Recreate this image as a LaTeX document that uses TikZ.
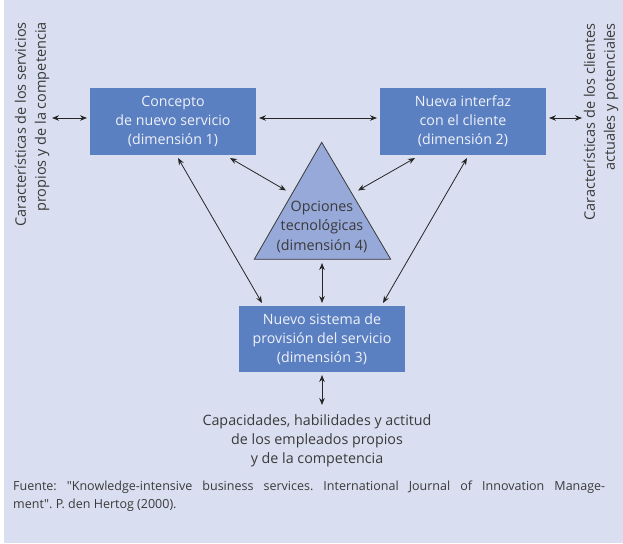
\documentclass[tikz,border=0pt]{standalone}
\usepackage{fontspec}
\setmainfont{Open Sans}[Ligatures=TeXOff]
\usetikzlibrary{arrows.meta,calc}
\definecolor{bg}{HTML}{D9DFF0}
\definecolor{boxc}{HTML}{5B80C1}
\definecolor{tri}{HTML}{97A9D9}
\definecolor{txt}{HTML}{3A3A3A}
\definecolor{wtxt}{HTML}{EEF1FA}
\frenchspacing
\begin{document}
\begin{tikzpicture}[x=1pt,y=-1pt,
  dimbox/.style={fill=boxc, text=wtxt, minimum width=166pt, minimum height=67pt, inner sep=0pt, outer sep=3pt, align=center, font=\fontsize{14.2}{19}\selectfont},
  arr/.style={{Stealth[length=7pt,width=5.5pt]}-{Stealth[length=7pt,width=5.5pt]}, line width=0.8pt, draw=black!85},
  side/.style={rotate=90, anchor=east, align=right, text=txt, font=\fontsize{14.5}{20}\selectfont, inner sep=0pt},
  plain/.style={text=txt, align=center, inner sep=0pt, font=\fontsize{14.3}{19.2}\selectfont}]
\useasboundingbox (0,0) rectangle (623,543);
\fill[white] (0,0) rectangle (623,543);
\fill[bg] (4,0) rectangle (623,543);

% boxes
\node[dimbox] (b1) at (173,121.5) {Concepto\\de nuevo servicio\\(dimensión 1)};
\node[dimbox] (b2) at (463,121.5) {Nueva interfaz\\con el cliente\\(dimensión 2)};
\node[dimbox, minimum height=66pt] (b3) at (322,339) {Nuevo sistema de\\provisión del servicio\\(dimensión 3)};

% triangle
\coordinate (ta) at (321.7,142.3);
\coordinate (tl) at (254.3,259.3);
\coordinate (tr) at (390.7,259.3);
\draw[fill=tri, draw=txt, line width=0.8pt] (ta) -- (tl) -- (tr) -- cycle;
\node[plain] (t) at (322,226.7) {Opciones\\tecnológicas\\(dimensión 4)};
\coordinate (tlp) at (286,190.5);
\coordinate (trp) at (358,190.5);
\coordinate (tbp) at (322,263);

% side texts
\node[side] (ls) at (32,22) {Características de los servicios\\propios y de la competencia};
\node[side] (rs) at (601,23) {Características de los clientes\\actuales y potenciales};
\coordinate (lp) at (52,118);
\coordinate (rp) at (582,118);

% bottom text
\node[plain] (bt) at (317,441) {Capacidades, habilidades y actitud\\de los empleados propios\\y de la competencia};
\coordinate (bp) at (322,405);

% footnote
\node[anchor=north west, text width=592pt, align=justify, font=\fontsize{12.5}{18}\selectfont\frenchspacing, text=txt, inner sep=0pt] (fn) at (13,481)
  {Fuente: "Knowledge-intensive business services. International Journal of Innovation Manage-\linebreak ment". P. den Hertog (2000).};

% connectors
\draw[arr] (lp) -- ([yshift=3.5pt]b1.west);
\draw[arr] ([yshift=3.5pt]b1.east) -- ([yshift=3.5pt]b2.west);
\draw[arr] ([yshift=3.5pt]b2.east) -- (rp);
\draw[arr] ([xshift=57pt]b1.south) -- (tlp);
\draw[arr] ([xshift=-48pt]b2.south) -- (trp);
\draw[arr] ([xshift=5pt]b1.south) -- ([xshift=-60pt]b3.north);
\draw[arr] ([xshift=4pt]b2.south) -- ([xshift=61pt]b3.north);
\draw[arr] (tbp) -- (b3.north);
\draw[arr] (b3.south) -- (bp);
\end{tikzpicture}
\end{document}
